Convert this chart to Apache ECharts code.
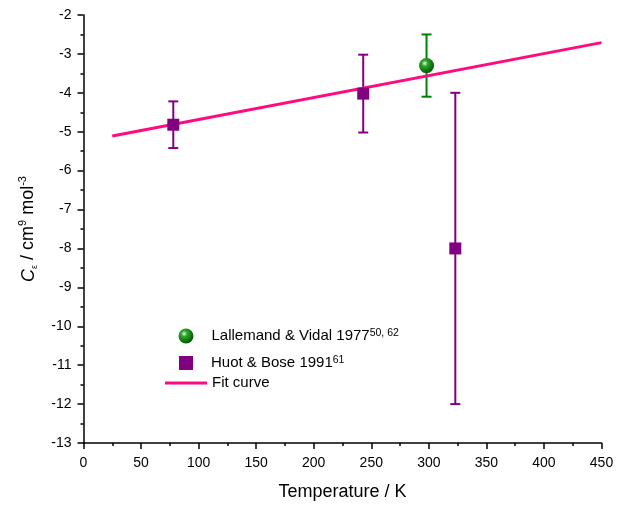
<!DOCTYPE html>
<html>
<head>
<meta charset="utf-8">
<script src="https://cdn.jsdelivr.net/npm/echarts@6/dist/echarts.min.js"></script>
<style>
  html, body { margin: 0; padding: 0; background: #fff; }
  #chart { width: 625px; height: 506px; }
</style>
</head>
<body>
<div id="chart"></div>
<script>
// values
var lallemandT = [298];
var lallemandC = [-3.3];
var lallemandLo = [-4.1];
var lallemandHi = [-2.5];

var huotT = [78, 243, 323];
var huotC = [-4.82, -4.02, -8.0];
var huotLo = [-5.42, -5.02, -12.0];
var huotHi = [-4.22, -3.02, -4.0];

var fitT = [25, 450];
var fitC = [-5.11, -2.71];

var chart = echarts.init(document.getElementById('chart'));

function pairs(xs, ys) {
  return xs.map(function (x, i) { return [x, ys[i]]; });
}
function errData(xs, lo, hi) {
  return xs.map(function (x, i) { return [x, lo[i], hi[i]]; });
}

// vertical error bar with caps
function errBar(color) {
  return function (params, api) {
    var x = api.value(0);
    var lo = api.coord([x, api.value(1)]);
    var hi = api.coord([x, api.value(2)]);
    var w = 5;
    var st = { stroke: color, lineWidth: 2 };
    return {
      type: 'group',
      children: [
        { type: 'line', shape: { x1: lo[0], y1: lo[1], x2: hi[0], y2: hi[1] }, style: st },
        { type: 'line', shape: { x1: lo[0] - w, y1: lo[1], x2: lo[0] + w, y2: lo[1] }, style: st },
        { type: 'line', shape: { x1: hi[0] - w, y1: hi[1], x2: hi[0] + w, y2: hi[1] }, style: st }
      ]
    };
  };
}

var sphere = new echarts.graphic.RadialGradient(0.38, 0.35, 0.65, [
  { offset: 0, color: '#e8ffe8' },
  { offset: 0.3, color: '#2fa82f' },
  { offset: 1, color: '#005a00' }
]);

var font = 'Liberation Sans, Arial, sans-serif';
var supRich = { sup: { fontSize: 10.5, lineHeight: 16, verticalAlign: 'top', color: '#000' } };

var option = {
  animation: false,
  textStyle: { fontFamily: font },
  grid: { left: 83.5, right: 23.5, top: 15, bottom: 60 },
  legend: [
    {
      left: 178.5, top: 328, orient: 'vertical', padding: 0,
      itemWidth: 15, itemHeight: 15,
      data: [{ name: 'Lallemand', icon: 'circle' }],
      formatter: function () { return 'Lallemand & Vidal 1977{sup|50, 62}'; },
      textStyle: { fontSize: 15, lineHeight: 16, color: '#000', fontFamily: font,
        padding: [0, 0, 0, 13], rich: supRich }
    },
    {
      left: 179, top: 355, orient: 'vertical', padding: 0,
      itemWidth: 14, itemHeight: 14,
      data: [{ name: 'Huot', icon: 'rect' }],
      formatter: function () { return 'Huot & Bose 1991{sup|61}'; },
      textStyle: { fontSize: 15, lineHeight: 16, color: '#000', fontFamily: font,
        padding: [0, 0, 0, 13], rich: supRich }
    },
    {
      left: 165, top: 375, orient: 'vertical', padding: 0,
      itemWidth: 42, itemHeight: 3,
      data: [{ name: 'Fit curve', icon: 'rect' }],
      textStyle: { fontSize: 15, lineHeight: 16, color: '#000', fontFamily: font }
    }
  ],
  xAxis: {
    type: 'value', min: 0, max: 450, interval: 50,
    name: 'Temperature / K', nameLocation: 'middle', nameGap: 40,
    nameTextStyle: { fontSize: 18, color: '#000' },
    axisLine: { lineStyle: { color: '#000', width: 1.5 } },
    axisTick: { inside: false, length: 6, lineStyle: { color: '#000', width: 1.5 } },
    minorTick: { show: true, splitNumber: 2, length: 3, lineStyle: { color: '#000', width: 1.5 } },
    axisLabel: { fontSize: 14, color: '#000', margin: 13 },
    splitLine: { show: false }
  },
  yAxis: {
    type: 'value', min: -13, max: -2, interval: 1,
    name: '{i|C}{sub|ε} / cm{sup|9} mol{sup|-3}',
    nameLocation: 'middle', nameGap: 44, nameRotate: 90,
    nameTextStyle: {
      fontSize: 18, color: '#000', lineHeight: 22,
      rich: {
        i: { fontSize: 18, fontStyle: 'italic', color: '#000', lineHeight: 22 },
        sub: { fontSize: 9, verticalAlign: 'bottom', color: '#000', lineHeight: 22 },
        sup: { fontSize: 11, verticalAlign: 'top', color: '#000', lineHeight: 22 }
      }
    },
    axisLine: { lineStyle: { color: '#000', width: 1.5 } },
    axisTick: { length: 6, lineStyle: { color: '#000', width: 1.5 } },
    minorTick: { show: true, splitNumber: 2, length: 3, lineStyle: { color: '#000', width: 1.5 } },
    axisLabel: { fontSize: 14, color: '#000', margin: 12 },
    splitLine: { show: false }
  },
  series: [
    {
      name: 'Fit curve', type: 'line', symbol: 'none',
      data: pairs(fitT, fitC),
      lineStyle: { color: '#ff0a80', width: 3 },
      itemStyle: { color: '#ff0a80' },
      z: 3
    },
    {
      name: 'HuotErr', type: 'custom',
      renderItem: errBar('#800080'),
      data: errData(huotT, huotLo, huotHi),
      z: 2
    },
    {
      name: 'LallErr', type: 'custom',
      renderItem: errBar('#008000'),
      data: errData(lallemandT, lallemandLo, lallemandHi),
      z: 2
    },
    {
      name: 'Huot', type: 'scatter', symbol: 'rect', symbolSize: 12,
      data: pairs(huotT, huotC),
      itemStyle: { color: '#800080', opacity: 1 },
      z: 4
    },
    {
      name: 'Lallemand', type: 'scatter', symbol: 'circle', symbolSize: 15,
      data: pairs(lallemandT, lallemandC),
      itemStyle: { color: sphere, opacity: 1 },
      z: 5
    }
  ]
};

chart.setOption(option);
</script>
</body>
</html>
